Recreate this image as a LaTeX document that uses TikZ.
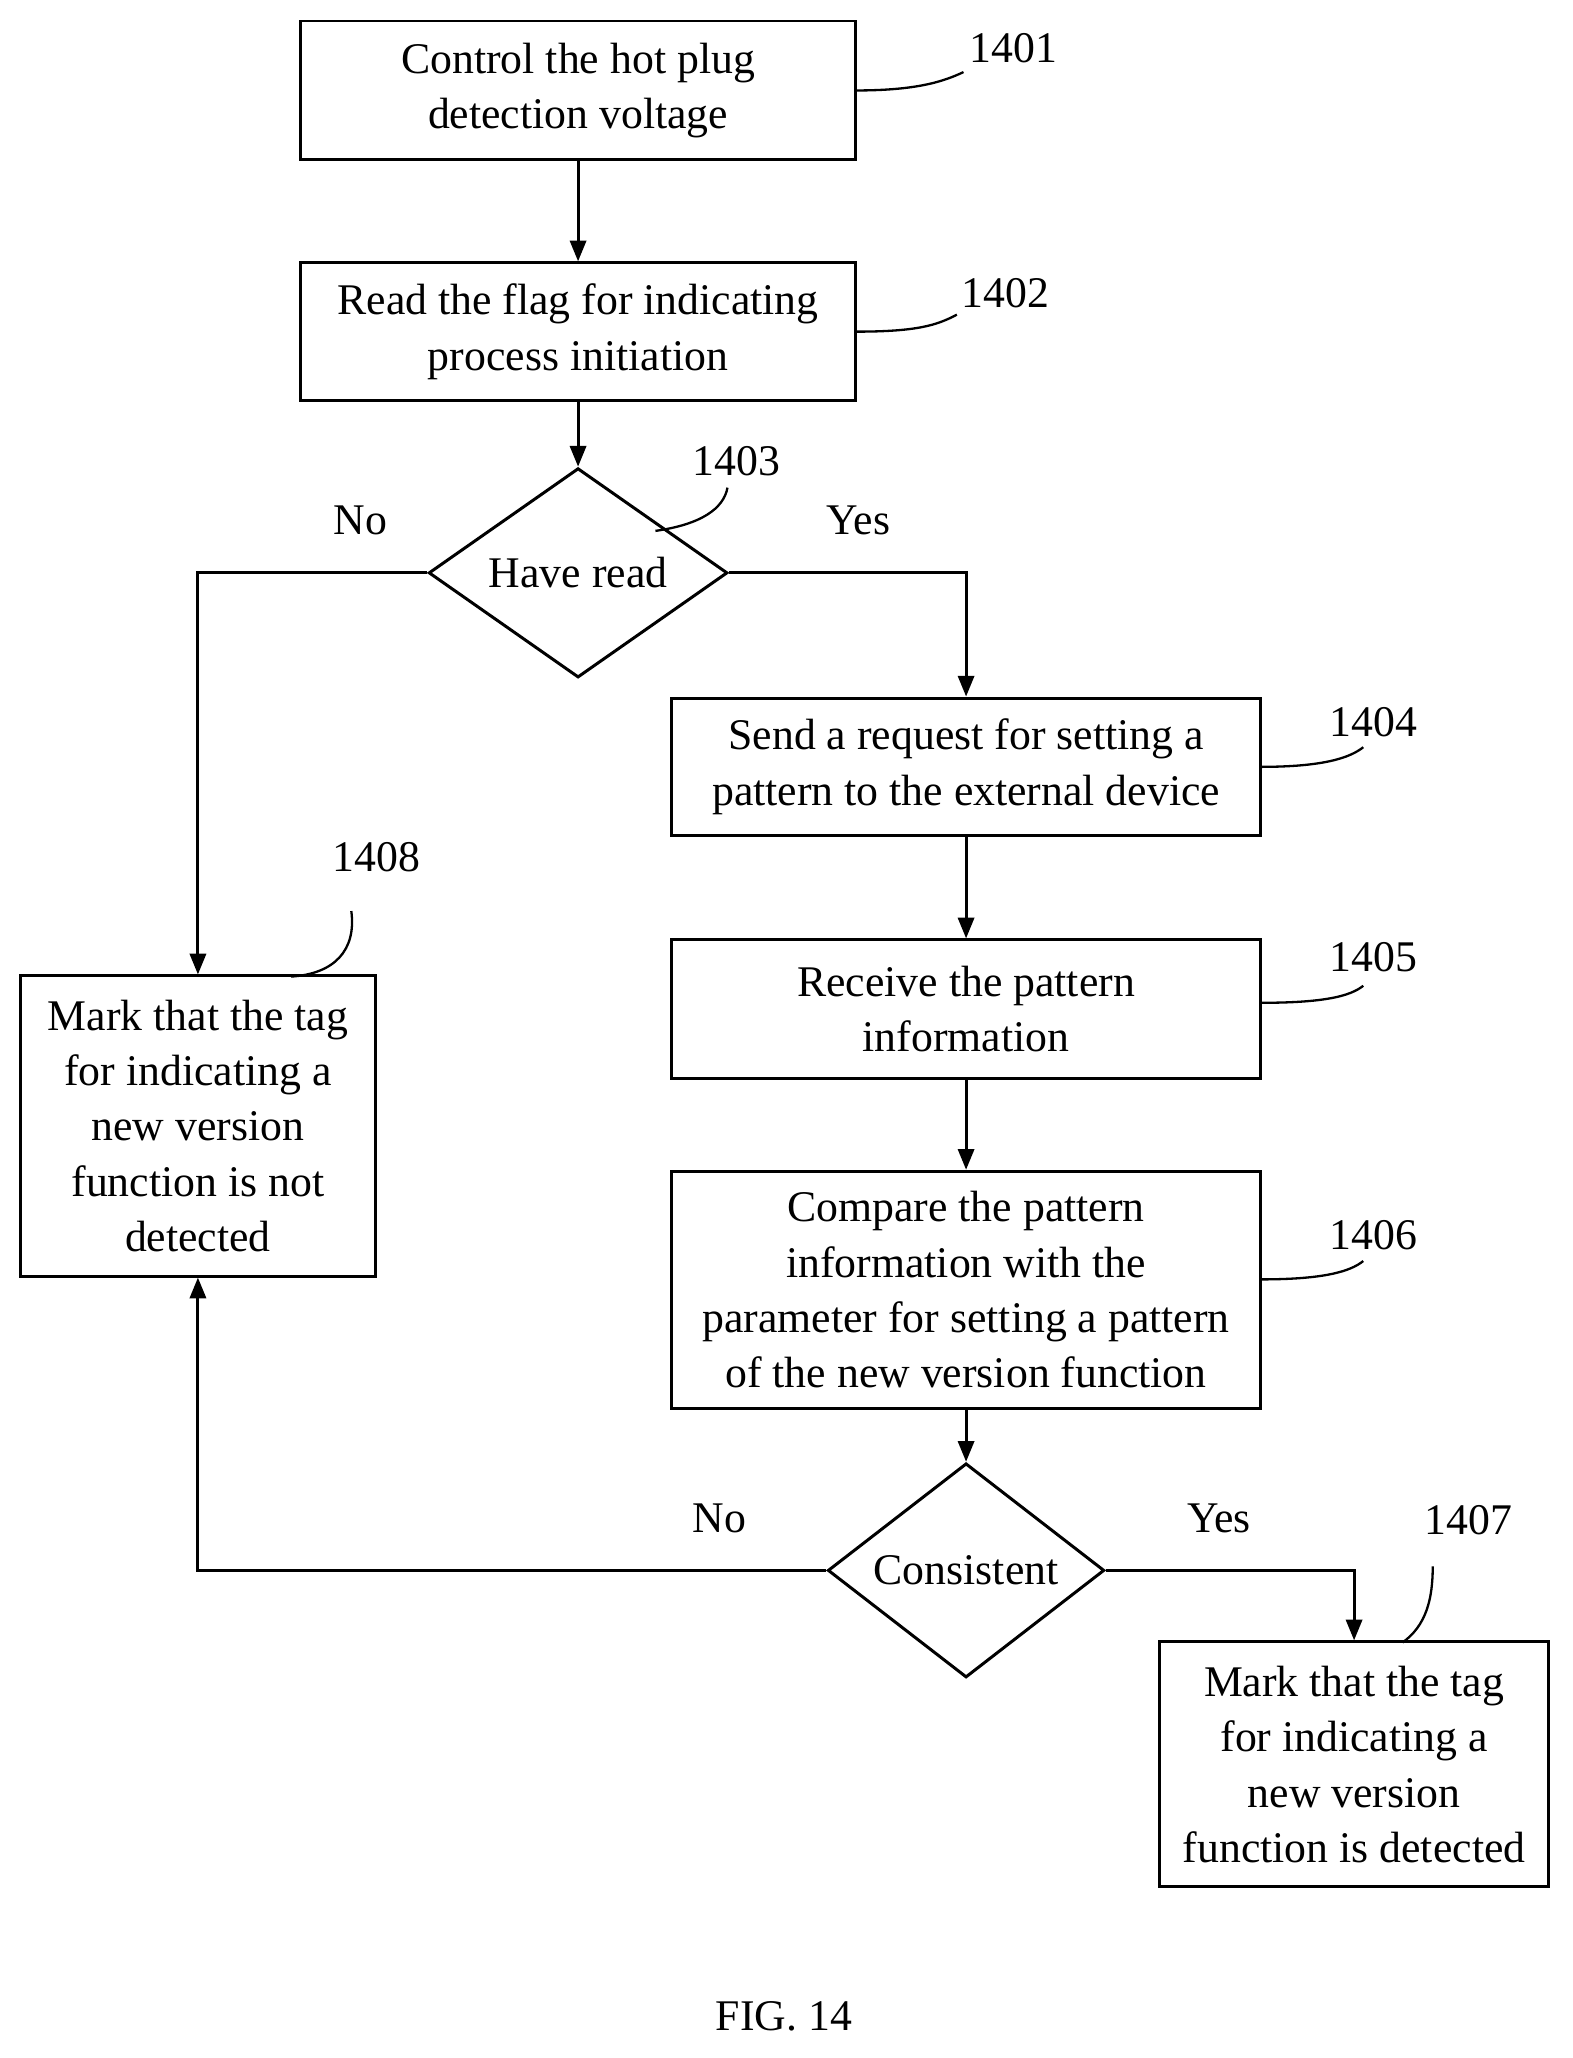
\documentclass[tikz,border=0pt]{standalone}
\usepackage{fontspec}
\setmainfont{Liberation Serif}
\usetikzlibrary{shapes.geometric,arrows.meta}
\begin{document}
\begin{tikzpicture}[x=0.02cm,y=-0.02cm,
  box/.style={draw,line width=1.3pt,align=center,inner sep=0pt,font=\fontsize{19}{24}\selectfont},
  dia/.style={draw,diamond,line width=1.3pt,inner sep=0pt,font=\fontsize{19}{24}\selectfont},
  lbl/.style={font=\fontsize{19}{24}\selectfont},
  arr/.style={line width=1.3pt,-{Triangle[length=9pt,width=7pt]}},
  lead/.style={line width=1pt}]
\useasboundingbox (0,0) rectangle (1200,1570);
\node[box,minimum width=423\pgflinewidth/1.3,text width=0pt] at (-1000,-1000) {};
\node[box,minimum width=8.46cm,minimum height=2.12cm] (n1) at (441,69) {Control the hot plug\\detection voltage};
\node[box,minimum width=8.46cm,minimum height=2.1cm] (n2) at (441,253) {Read the flag for indicating\\process initiation};
\node[dia,minimum width=4.56cm,minimum height=2.5cm] (n3) at (441,437) {Have read};
\node[box,minimum width=8.98cm,minimum height=2.1cm] (n4) at (737,585) {Send a request for setting a\\pattern to the external device};
\node[box,minimum width=8.98cm,minimum height=2.12cm] (n5) at (737,770) {Receive the pattern\\information};
\node[box,minimum width=8.98cm,minimum height=3.62cm] (n6) at (737,984) {Compare the pattern\\information with the\\parameter for setting a pattern\\of the new version function};
\node[dia,minimum width=4.22cm,minimum height=2.52cm] (n7) at (737,1198) {Consistent};
\node[box,minimum width=5.94cm,minimum height=3.74cm] (n8) at (1033,1346) {Mark that the tag\\for indicating a\\new version\\function is detected};
\node[box,minimum width=5.42cm,minimum height=4.58cm] (n9) at (151,859) {Mark that the tag\\for indicating a\\new version\\function is not\\detected};
\draw[arr] (n1) -- (n2);
\draw[arr] (n2) -- (n3);
\draw[arr] (n3.west) -| (n9.north);
\draw[arr] (n3.east) -| (n4.north);
\draw[arr] (n4) -- (n5);
\draw[arr] (n5) -- (n6);
\draw[arr] (n6) -- (n7);
\draw[arr] (n7.west) -| (n9.south);
\draw[arr] (n7.east) -| (n8.north);
\node[lbl] (l1) at (773,37) {1401};
\node[lbl] (l2) at (767,224) {1402};
\node[lbl] (l3) at (562,352) {1403};
\node[lbl] (l4) at (1048,551) {1404};
\node[lbl] (l5) at (1048,730) {1405};
\node[lbl] (l6) at (1048,942) {1406};
\node[lbl] (l7) at (1120,1160) {1407};
\node[lbl] (l8) at (287,654) {1408};
\draw[lead] (653,69) .. controls (700,69) and (720,62) .. (735,55);
\draw[lead] (653,253) .. controls (700,253) and (715,248) .. (730,240);
\draw[lead] (500,405) .. controls (535,400) and (552,388) .. (555,372);
\draw[lead] (962,585) .. controls (1010,585) and (1030,578) .. (1040,570);
\draw[lead] (962,765) .. controls (1010,765) and (1030,760) .. (1040,752);
\draw[lead] (962,976) .. controls (1010,976) and (1030,970) .. (1040,962);
\draw[lead] (1070,1253) .. controls (1088,1240) and (1093,1220) .. (1093,1195);
\draw[lead] (222,745) .. controls (255,743) and (272,725) .. (268,695);
\node[lbl] at (275,397) {No};
\node[lbl] at (655,397) {Yes};
\node[lbl] at (549,1158) {No};
\node[lbl] at (930,1158) {Yes};
\node[lbl] at (598,1538) {FIG. 14};
\end{tikzpicture}
\end{document}
